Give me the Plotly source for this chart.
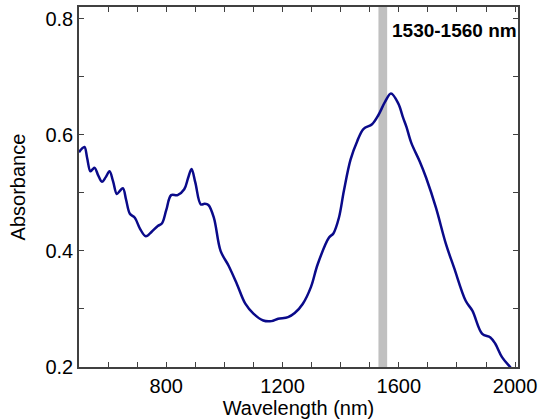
import plotly.graph_objects as go

wavelength = [500, 510, 519, 528, 539, 546, 554, 566, 579, 592, 605, 617, 630, 640, 651, 662,
              675, 692, 710, 730, 750, 771, 785, 800, 817, 839, 862, 875, 887, 900, 919, 932,
              945, 964, 987, 1015, 1043, 1072, 1100, 1134, 1162, 1185, 1219, 1242,
              1270, 1298, 1321, 1360, 1375, 1394, 1411, 1434, 1457, 1479, 1508, 1530, 1553,
              1573, 1598, 1615, 1626, 1643, 1672, 1694, 1728, 1762, 1790, 1830, 1853, 1887,
              1915, 1932, 1955, 1983, 2000]
absorbance = [0.570, 0.576, 0.579, 0.560, 0.537, 0.540, 0.543, 0.530, 0.519, 0.527, 0.537,
              0.520, 0.498, 0.503, 0.508, 0.488, 0.464, 0.457, 0.438, 0.425, 0.433, 0.443,
              0.447, 0.470, 0.496, 0.496, 0.506, 0.525, 0.541, 0.518, 0.480, 0.481, 0.479,
              0.457, 0.400, 0.374, 0.343, 0.309, 0.292, 0.280, 0.279, 0.283, 0.286, 0.293,
              0.309, 0.338, 0.377, 0.423, 0.430, 0.457, 0.503, 0.557, 0.589, 0.610, 0.618,
              0.634, 0.657, 0.671, 0.654, 0.629, 0.614, 0.586, 0.554, 0.526, 0.474, 0.412,
              0.371, 0.314, 0.297, 0.257, 0.251, 0.240, 0.217, 0.200, 0.190]

band = [1530, 1560]
band_label = "1530-1560 nm"
x_ticks = [800, 1200, 1600, 2000]
y_ticks = [0.2, 0.4, 0.6, 0.8]

fig = go.Figure()
fig.add_vrect(x0=band[0], x1=band[1], fillcolor="#c0c0c0", opacity=1, line_width=0, layer="below")
fig.add_trace(go.Scatter(x=wavelength, y=absorbance, mode="lines",
                         line=dict(color="#0a0a8a", width=2.5, shape="spline", smoothing=1.0),
                         cliponaxis=True, showlegend=False))
fig.add_annotation(x=band[1], y=0.78, xref="x", yref="y", text="<b>" + band_label + "</b>",
                   showarrow=False, xanchor="left", xshift=3,
                   font=dict(family="Liberation Sans, Arial", size=19, color="black"))

axis_common = dict(showline=True, linecolor="#404040", linewidth=1.5, mirror="ticks",
                   ticks="inside", ticklen=5, tickwidth=1.2, tickcolor="#404040",
                   showgrid=False, zeroline=False, ticklabeloverflow="allow",
                   tickfont=dict(family="Liberation Sans, Arial", size=20, color="black"))

fig.update_xaxes(range=[500, 2010], tickvals=x_ticks, ticktext=[str(v) for v in x_ticks],
                 minor=dict(dtick=100, tick0=0, ticks="inside", ticklen=5, tickcolor="#404040"),
                 title=dict(text="Wavelength (nm)", standoff=0,
                            font=dict(family="Liberation Sans, Arial", size=20, color="black")),
                 **axis_common)
fig.update_yaxes(range=[0.2, 0.82], tickvals=y_ticks, ticktext=["0.2", "0.4", "0.6", "0.8"],
                 minor=dict(dtick=0.1, tick0=0, ticks="inside", ticklen=5, tickcolor="#404040"),
                 title=dict(text="Absorbance", standoff=14,
                            font=dict(family="Liberation Sans, Arial", size=20, color="black")),
                 **axis_common)

fig.update_layout(width=542, height=419, margin=dict(l=79, r=19, t=5, b=52),
                  plot_bgcolor="white", paper_bgcolor="white")

fig.write_html("out.html")
